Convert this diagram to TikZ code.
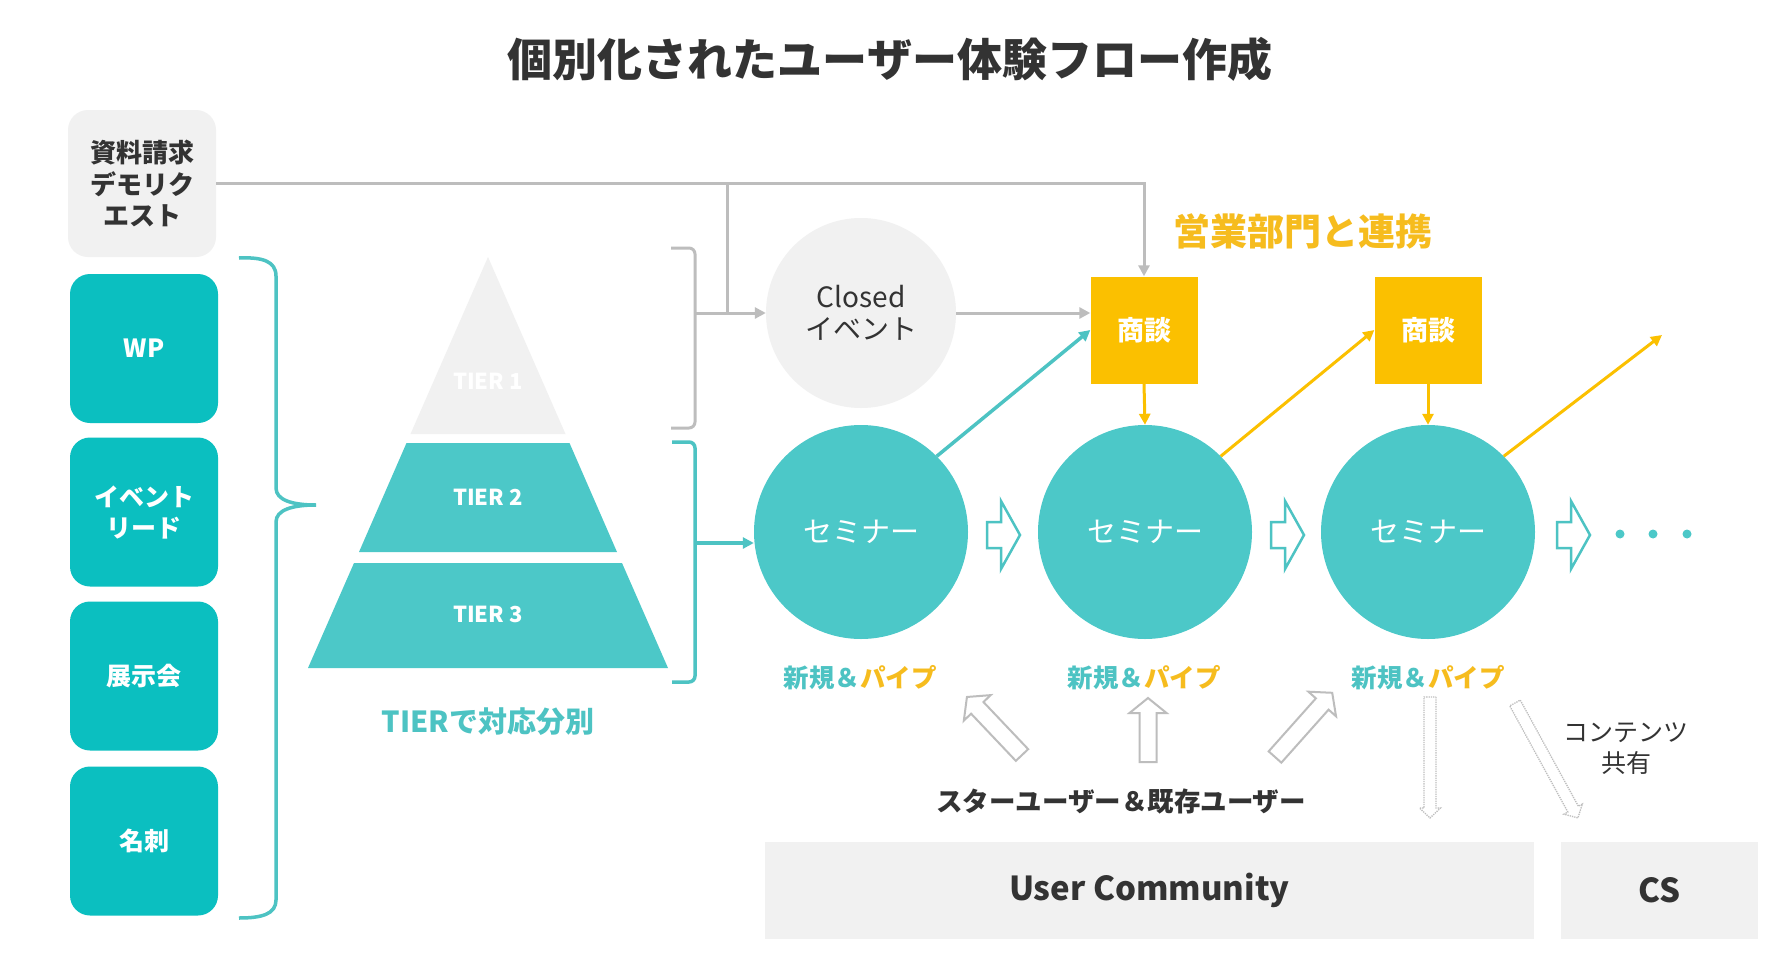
\documentclass[tikz,border=0pt]{standalone}
\usepackage{fontspec}
\setmainfont{Noto Sans CJK JP}
\usetikzlibrary{arrows.meta}
\definecolor{tealD}{HTML}{0BBFC0}
\definecolor{tealL}{HTML}{4CC8C8}
\definecolor{tealLine}{HTML}{4DC3C3}
\definecolor{yel}{HTML}{FBC000}
\definecolor{yelT}{HTML}{F6BC1E}
\definecolor{lgray}{HTML}{F1F1F1}
\definecolor{lineGray}{HTML}{BDBDBD}
\definecolor{darkT}{HTML}{333333}
\tikzset{
 arLen/.store in=\arLen, arSw/.store in=\arSw, arHw/.store in=\arHw, arHl/.store in=\arHl,
 arLen=60, arSw=8, arHw=18, arHl=15,
 harrow/.pic={\draw[pic actions] (0,-\arSw) -- (\arLen-\arHl,-\arSw) -- (\arLen-\arHl,-\arHw) -- (\arLen,0) -- (\arLen-\arHl,\arHw) -- (\arLen-\arHl,\arSw) -- (0,\arSw) -- cycle;},
 titletext/.style={font=\fontsize{45}{54}\selectfont\bfseries, text=darkT},
 reqbox/.style={fill=lgray, rounded corners=20pt, minimum width=148pt, minimum height=147pt, align=center, font=\fontsize{26}{31.5}\selectfont\bfseries, text=darkT},
 srcbox/.style={fill=tealD, rounded corners=20pt, minimum width=148pt, minimum height=149pt, align=center, font=\fontsize{25}{31}\selectfont\bfseries, text=white},
 tierlab/.style={font=\fontsize{22}{26}\selectfont\bfseries, text=white},
 semc/.style={circle, fill=tealL, minimum size=214pt, inner sep=0pt, text=white, font=\fontsize{29}{34}\selectfont},
 closedc/.style={circle, fill=lgray, minimum size=190pt, inner sep=0pt, align=center, text=darkT, font=\fontsize{28}{32}\selectfont},
 shodanbox/.style={fill=yel, minimum size=107pt, inner sep=0pt, text=white, font=\fontsize{27}{32}\selectfont\bfseries},
 gl/.style={draw=lineGray, line width=3pt},
 tl/.style={draw=tealLine, line width=3.5pt},
 yl/.style={draw=yel, line width=3pt},
 arrowtip/.style={-{Triangle[length=11pt,width=11pt]}},
 lab/.style={font=\fontsize{25.5}{30}\selectfont\bfseries},
 commbox/.style={fill=lgray, minimum height=97pt, inner sep=0pt, text=darkT, font=\fontsize{33}{40}\selectfont\bfseries},
 dotn/.style={circle, fill=tealL, minimum size=9pt, inner sep=0pt},
}
\begin{document}
\begin{tikzpicture}[x=1pt,y=-1pt]
\fill[white] (0,0) rectangle (1767,961);
\useasboundingbox (0,0) rectangle (1767,961);

% title
\node[titletext] (title) at (890,59) {個別化されたユーザー体験フロー作成};

% left column
\node[reqbox] (req) at (142,183.5) {資料請求\\デモリク\\エスト};
\node[srcbox] (wp) at (144,348.5) {WP};
\node[srcbox] (ev) at (144,512) {イベント\\リード};
\node[srcbox] (ex) at (144,676) {展示会};
\node[srcbox] (mei) at (144,841) {名刺};

% left brace
\draw[tl] (239,258) .. controls (262,257) and (276,261) .. (276,276) -- (276,488)
  .. controls (276,500) and (292,505) .. (316,505)
  .. controls (292,505) and (276,510) .. (276,522) -- (276,900)
  .. controls (276,914) and (262,918) .. (239,918);

% pyramid
\fill[lgray] (488,257) -- (565.5,434) -- (410.5,434) -- cycle;
\fill[tealL] (406.5,443) -- (569.5,443) -- (617,552) -- (359,552) -- cycle;
\fill[tealL] (354,563) -- (622,563) -- (668,668) -- (308,668) -- cycle;
\node[tierlab] (t1) at (488,381) {TIER 1};
\node[tierlab] (t2) at (488,497) {TIER 2};
\node[tierlab] (t3) at (488,614) {TIER 3};
\node[font=\fontsize{29}{34}\selectfont\bfseries, text=tealLine] (tierlbl) at (488,722) {TIERで対応分別};

% closed event, seminars, shodan
\node[closedc] (closed) at (861,313) {Closed\\イベント};
\node[semc] (sem1) at (861,532) {セミナー};
\node[semc] (sem2) at (1145,532) {セミナー};
\node[semc] (sem3) at (1428,532) {セミナー};
\node[shodanbox] (shodan1) at (1144,330) {商談};
\node[shodanbox] (shodan2) at (1428,330) {商談};
\node[font=\fontsize{37}{44}\selectfont\bfseries, text=yelT] (sales) at (1303,231) {営業部門と連携};

% gray bracket and lines
\draw[gl, rounded corners=6pt] (671,248) -- (695,248) -- (695,428) -- (671,428);
\coordinate (gb) at (695,313);
\coordinate (j1) at (727,184);
\draw[gl, arrowtip] (req.east) -| (shodan1.north);
\draw[gl] (j1) -- (j1 |- gb);
\draw[gl, arrowtip] (gb) -- (closed.west);
\draw[gl, arrowtip] (closed.east) -- (closed.east -| shodan1.west);

% teal bracket
\draw[tl, rounded corners=6pt] (672,442) -- (695,442) -- (695,682) -- (672,682);
\coordinate (tb) at (695,543);
\draw[tl, arrowtip] (tb) -- (tb -| sem1.west);

% diagonal arrows
\draw[tl, arrowtip] (sem1.45) -- (shodan1.west);
\draw[yl, arrowtip] (sem2.45) -- (shodan2.west);
\coordinate (nextend) at (1662,335);
\draw[yl, arrowtip] (sem3.45) -- (nextend);
\draw[yl, arrowtip] (shodan1.south) -- (sem2.north);
\draw[yl, arrowtip] (shodan2.south) -- (sem3.north);

% hollow teal arrows
\pic[draw=tealLine, fill=white, line width=2.5pt, arLen=33, arSw=13, arHw=34, arHl=19] (ha1) at (987,535) {harrow};
\pic[draw=tealLine, fill=white, line width=2.5pt, arLen=33, arSw=13, arHw=34, arHl=19] (ha2) at (1271,535) {harrow};
\pic[draw=tealLine, fill=white, line width=2.5pt, arLen=33, arSw=13, arHw=34, arHl=19] (ha3) at (1557,535) {harrow};
\node[dotn] (d1) at (1620,534) {};
\node[dotn] (d2) at (1653,534) {};
\node[dotn] (d3) at (1687,534) {};

% labels
\node[lab] (l1) at (860,678) {\textcolor{tealLine}{新規＆}\textcolor{yelT}{パイプ}};
\node[lab] (l2) at (1144,678) {\textcolor{tealLine}{新規＆}\textcolor{yelT}{パイプ}};
\node[lab] (l3) at (1428,678) {\textcolor{tealLine}{新規＆}\textcolor{yelT}{パイプ}};

% user arrows
\pic[draw=lineGray, fill=white, line width=2pt, rotate=133.5, arLen=80, arSw=8.5, arHw=18.5, arHl=15] (ua1) at (1022,755) {harrow};
\pic[draw=lineGray, fill=white, line width=2pt, rotate=90, arLen=64, arSw=8.5, arHw=18.5, arHl=15] (ua2) at (1148,762) {harrow};
\pic[draw=lineGray, fill=white, line width=2pt, rotate=48.3, arLen=86, arSw=8.5, arHw=18.5, arHl=15] (ua3) at (1275,757) {harrow};
\pic[draw=lineGray, fill=white, line width=1.3pt, densely dotted, rotate=-90, arLen=121, arSw=6, arHw=10.5, arHl=10] (da1) at (1430,697) {harrow};
\pic[draw=lineGray, fill=white, line width=1.3pt, densely dotted, rotate=-61.3, arLen=131, arSw=6, arHw=10.5, arHl=10] (da2) at (1515,703) {harrow};

\node[lab, font=\fontsize{26.5}{31}\selectfont\bfseries, text=darkT] (star) at (1121,801) {スターユーザー＆既存ユーザー};
\node[font=\fontsize{25}{31}\selectfont, text=darkT, align=center] (cont) at (1626,749) {コンテンツ\\共有};

% bottom boxes
\node[commbox, minimum width=769pt] (uc) at (1149.5,890.5) {User Community};
\node[commbox, minimum width=197pt] (cs) at (1659.5,890.5) {CS};
\end{tikzpicture}
\end{document}
